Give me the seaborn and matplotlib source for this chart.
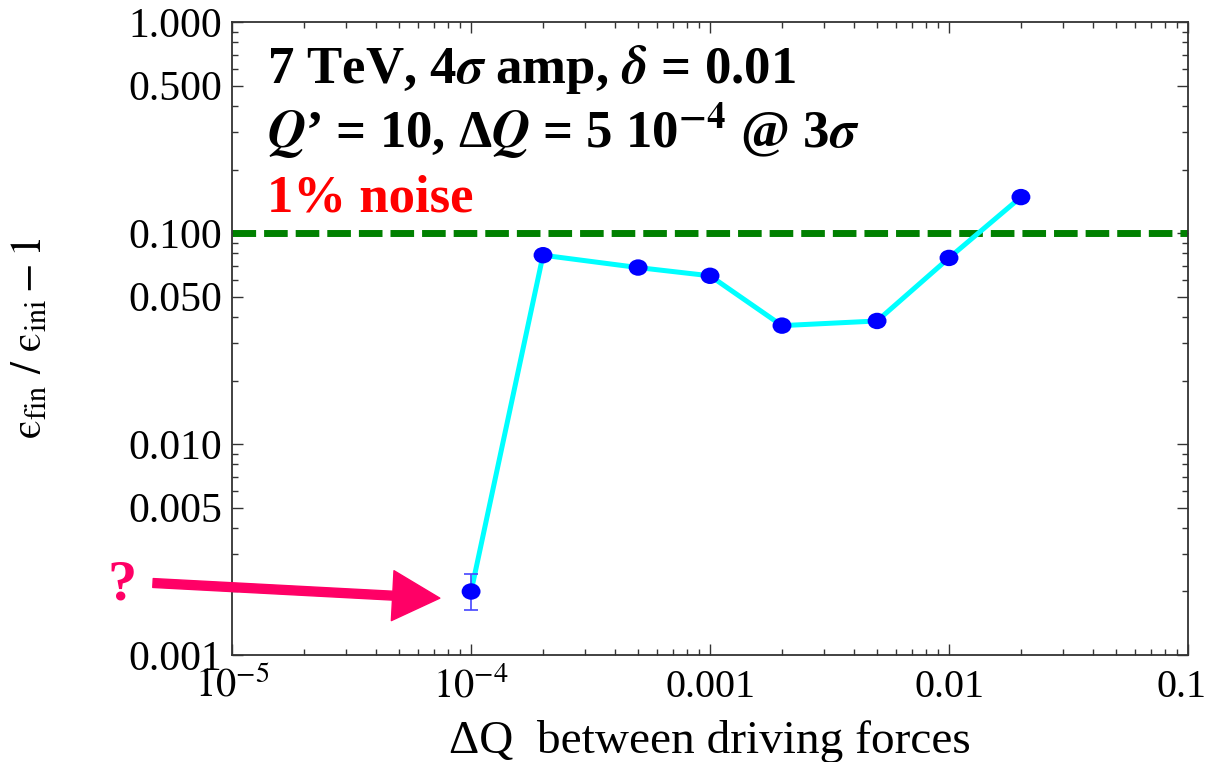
import numpy as np
import pandas as pd
import matplotlib
matplotlib.use("Agg")
import matplotlib.pyplot as plt
import seaborn as sns
from matplotlib.path import Path
from matplotlib.transforms import Affine2D, ScaledTranslation
from matplotlib.ticker import FixedLocator, FixedFormatter, LogLocator, NullFormatter

# ---------------- data ----------------
dq = [1e-4, 2e-4, 5e-4, 1e-3, 2e-3, 5e-3, 1e-2, 2e-2]
growth = [0.0020, 0.0785, 0.0686, 0.0627, 0.0364, 0.0383, 0.0762, 0.148]
err_low = [0.00037]
err_high = [0.00043]
threshold = 0.1

xticks = [1e-5, 1e-4, 1e-3, 1e-2, 1e-1]
xticklabels = [r"$10^{-5}$", r"$10^{-4}$", "0.001", "0.01", "0.1"]
yticks = [0.001, 0.005, 0.01, 0.05, 0.1, 0.5, 1.0]
yticklabels = ["0.001", "0.005", "0.010", "0.050", "0.100", "0.500", "1.000"]

line1 = r"7 TeV, 4$\mathbfit{\sigma}$ amp, $\mathbfit{\delta}$ = 0.01"
line2 = r"$\mathbfit{Q}$’ = 10, Δ$\mathbfit{Q}$ = 5 10$^{\mathbf{-4}}$ @ 3$\mathbfit{\sigma}$"
line3 = "1% noise"

# ---------------- style ----------------
sns.set_style("ticks")
plt.rcParams["font.family"] = ["Liberation Serif", "DejaVu Serif"]
plt.rcParams["mathtext.fontset"] = "stix"
plt.rcParams["text.color"] = "black"
plt.rcParams["axes.labelcolor"] = "black"

fig = plt.figure(figsize=(12.09, 7.62), dpi=100)
ax = fig.add_axes([0.192, 0.1404, 0.7906, 0.8307])

df = pd.DataFrame({"dq": dq, "g": growth})
ax.set_xscale("log")
ax.set_yscale("log")

ellipse = Path.unit_circle().transformed(Affine2D().scale(1.15, 1.0))

sns.lineplot(data=df, x="dq", y="g", ax=ax, color="#00FFFF", lw=3.6, zorder=2)
ax.errorbar(dq[:1], growth[:1], yerr=[err_low, err_high], fmt="none",
            ecolor="#4646FF", elinewidth=1.2, capsize=5, capthick=1.2, zorder=3)
sns.scatterplot(data=df, x="dq", y="g", ax=ax, color="#0000FF", s=185,
                marker=ellipse, edgecolor="none", zorder=4)

ax.axhline(threshold, color="#008000", lw=5, dashes=(3.4, 1.15), zorder=1)

ax.set_xlim(1e-5, 1e-1)
ax.set_ylim(1e-3, 1.0)

ax.xaxis.set_major_locator(FixedLocator(xticks))
ax.xaxis.set_major_formatter(FixedFormatter(xticklabels))
ax.xaxis.set_minor_locator(LogLocator(base=10, subs=np.arange(2, 10)))
ax.xaxis.set_minor_formatter(NullFormatter())
ax.yaxis.set_major_locator(FixedLocator(yticks))
ax.yaxis.set_major_formatter(FixedFormatter(yticklabels))
ax.yaxis.set_minor_locator(LogLocator(base=10, subs=np.arange(1, 10)))
ax.yaxis.set_minor_formatter(NullFormatter())

ax.tick_params(which="both", direction="in", top=True, right=True,
               color="#333333", width=1.0, labelcolor="black")
ax.tick_params(axis="y", labelsize=30, pad=7)
ax.tick_params(axis="x", labelsize=29, pad=30)
ax.tick_params(which="major", length=8)
ax.tick_params(which="minor", length=4)
xlabs = ax.get_xticklabels()
for lab in xlabs:
    lab.set_verticalalignment("baseline")
xlabs[-1].set_transform(xlabs[-1].get_transform()
                        + ScaledTranslation(-6 / 100, 0, fig.dpi_scale_trans))
for s in ax.spines.values():
    s.set_color("#333333")
    s.set_linewidth(1.3)

ax.set_xlabel("ΔQ  between driving forces", fontsize=34)
ax.xaxis.label.set_verticalalignment("baseline")
ax.xaxis.set_label_coords(0.5, (655 - 753) / 633)
ax.set_ylabel(r"$\mathrm{ϵ}_{\mathrm{fin}}\ /\ \mathrm{ϵ}_{\mathrm{ini}} - 1$", fontsize=31)
ax.yaxis.set_label_coords((50 - 232) / 956, 0.5)

ax.text(0.037, 0.9036, line1, transform=ax.transAxes, fontsize=38,
        fontweight="bold", va="baseline", ha="left")
ax.text(0.037, 0.801, line2, transform=ax.transAxes, fontsize=38,
        fontweight="bold", va="baseline", ha="left")
ax.text(0.037, 0.700, line3, transform=ax.transAxes, fontsize=38,
        fontweight="bold", va="baseline", ha="left", color="#FF0000")

ax.annotate("", xy=(7.4e-5, 0.00186), xycoords="data",
            xytext=(153 / 1209, 1 - 583 / 762), textcoords="figure fraction",
            arrowprops=dict(arrowstyle="simple,head_length=1.7,head_width=1.8,tail_width=0.32",
                            mutation_scale=20, color="#FF0066", shrinkA=0, shrinkB=0),
            annotation_clip=False)
fig.text(122 / 1209, 1 - 585 / 762, "?", fontsize=42, fontweight="bold",
         color="#FF0066", ha="center", va="center")

fig.savefig("out.png", dpi=100)
